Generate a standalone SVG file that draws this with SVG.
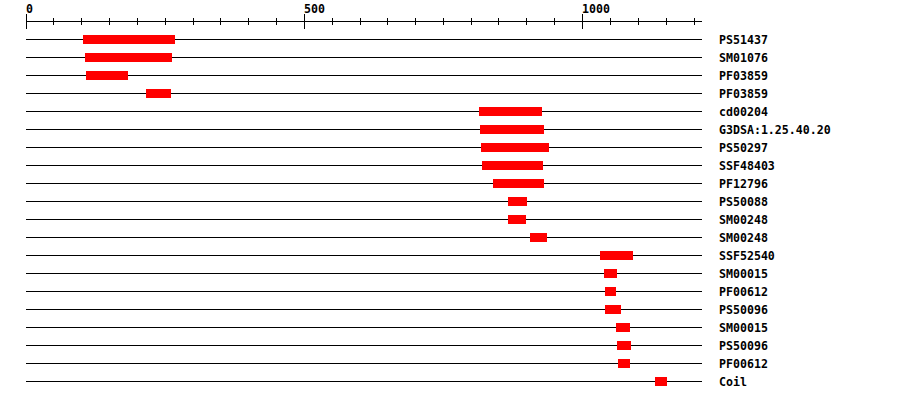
<svg xmlns="http://www.w3.org/2000/svg" width="900" height="400" viewBox="0 0 900 400">
<style>
.ln{stroke:#000;stroke-width:1;shape-rendering:crispEdges}
.bx{fill:#ff0000;shape-rendering:crispEdges}
.t{font-family:"DejaVu Sans Mono","Liberation Mono",monospace;font-weight:bold;font-size:11.6px;fill:#000}
</style>
<rect width="900" height="400" fill="#fff"/>
<g id="ruler">
<line class="ln" x1="26" y1="21.5" x2="702" y2="21.5"/>
<path class="ln" fill="none" d="M26.5 14V29M304.5 14V29M582.5 14V29M53.5 18V25M81.5 18V25M109.5 18V25M137.5 18V25M165.5 18V25M193.5 18V25M220.5 18V25M248.5 18V25M276.5 18V25M332.5 18V25M360.5 18V25M387.5 18V25M415.5 18V25M443.5 18V25M471.5 18V25M498.5 18V25M526.5 18V25M554.5 18V25M610.5 18V25M638.5 18V25M666.5 18V25M694.5 18V25"/>
<text class="t" x="26" y="12.5">0</text>
<text class="t" x="304" y="12.5">500</text>
<text class="t" x="582" y="12.5">1000</text>
</g>
<g id="tracks">
<path class="ln" fill="none" d="M26 39.5H702M26 57.5H702M26 75.5H702M26 93.5H702M26 111.5H702M26 129.5H702M26 147.5H702M26 165.5H702M26 183.5H702M26 201.5H702M26 219.5H702M26 237.5H702M26 255.5H702M26 273.5H702M26 291.5H702M26 309.5H702M26 327.5H702M26 345.5H702M26 363.5H702M26 381.5H702"/>
</g>
<g id="r0"><rect class="bx" x="83" y="35" width="92" height="9"/><text class="t" x="719" y="43.5">PS51437</text></g>
<g id="r1"><rect class="bx" x="85" y="53" width="87" height="9"/><text class="t" x="719" y="61.5">SM01076</text></g>
<g id="r2"><rect class="bx" x="86" y="71" width="42" height="9"/><text class="t" x="719" y="79.5">PF03859</text></g>
<g id="r3"><rect class="bx" x="146" y="89" width="25" height="9"/><text class="t" x="719" y="97.5">PF03859</text></g>
<g id="r4"><rect class="bx" x="479" y="107" width="63" height="9"/><text class="t" x="719" y="115.5">cd00204</text></g>
<g id="r5"><rect class="bx" x="480" y="125" width="64" height="9"/><text class="t" x="719" y="133.5">G3DSA:1.25.40.20</text></g>
<g id="r6"><rect class="bx" x="481" y="143" width="68" height="9"/><text class="t" x="719" y="151.5">PS50297</text></g>
<g id="r7"><rect class="bx" x="482" y="161" width="61" height="9"/><text class="t" x="719" y="169.5">SSF48403</text></g>
<g id="r8"><rect class="bx" x="493" y="179" width="51" height="9"/><text class="t" x="719" y="187.5">PF12796</text></g>
<g id="r9"><rect class="bx" x="508" y="197" width="19" height="9"/><text class="t" x="719" y="205.5">PS50088</text></g>
<g id="r10"><rect class="bx" x="508" y="215" width="18" height="9"/><text class="t" x="719" y="223.5">SM00248</text></g>
<g id="r11"><rect class="bx" x="530" y="233" width="17" height="9"/><text class="t" x="719" y="241.5">SM00248</text></g>
<g id="r12"><rect class="bx" x="600" y="251" width="33" height="9"/><text class="t" x="719" y="259.5">SSF52540</text></g>
<g id="r13"><rect class="bx" x="604" y="269" width="13" height="9"/><text class="t" x="719" y="277.5">SM00015</text></g>
<g id="r14"><rect class="bx" x="605" y="287" width="11" height="9"/><text class="t" x="719" y="295.5">PF00612</text></g>
<g id="r15"><rect class="bx" x="605" y="305" width="16" height="9"/><text class="t" x="719" y="313.5">PS50096</text></g>
<g id="r16"><rect class="bx" x="616" y="323" width="14" height="9"/><text class="t" x="719" y="331.5">SM00015</text></g>
<g id="r17"><rect class="bx" x="617" y="341" width="14" height="9"/><text class="t" x="719" y="349.5">PS50096</text></g>
<g id="r18"><rect class="bx" x="618" y="359" width="12" height="9"/><text class="t" x="719" y="367.5">PF00612</text></g>
<g id="r19"><rect class="bx" x="655" y="377" width="12" height="9"/><text class="t" x="719" y="385.5">Coil</text></g>
</svg>
